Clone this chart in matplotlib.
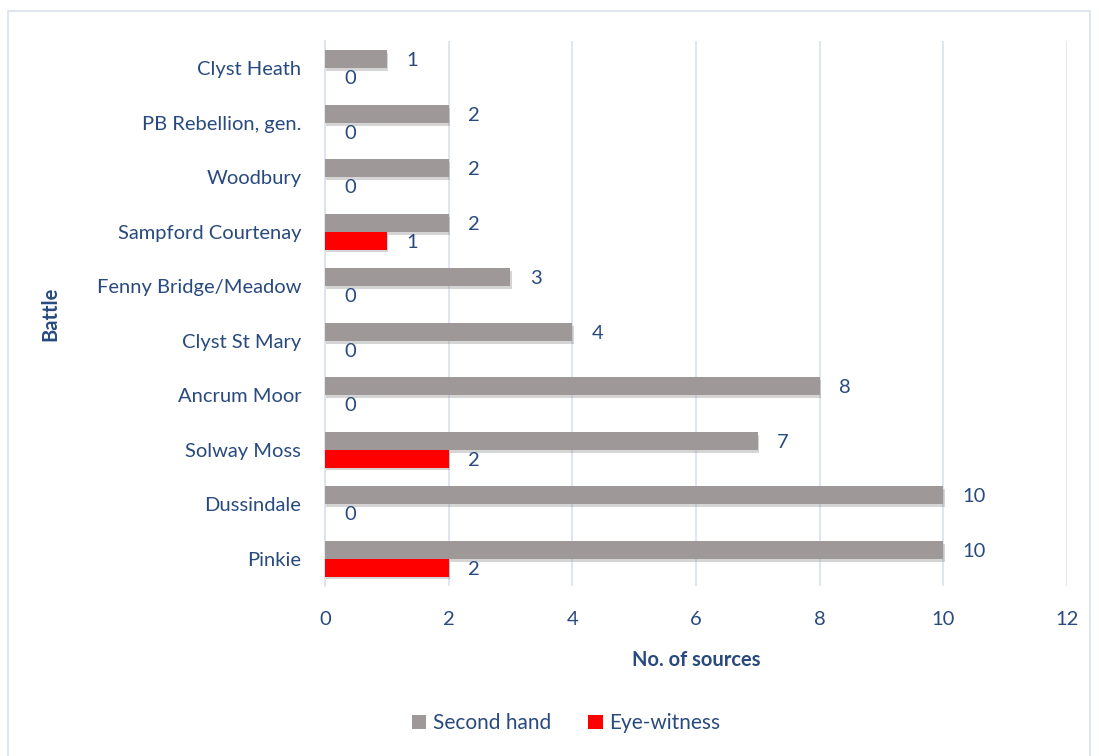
import matplotlib.pyplot as plt
import matplotlib.patheffects as pe
from matplotlib.patches import Rectangle
import numpy as np

battles = ['Clyst Heath', 'PB Rebellion, gen.', 'Woodbury', 'Sampford Courtenay',
           'Fenny Bridge/Meadow', 'Clyst St Mary', 'Ancrum Moor', 'Solway Moss',
           'Dussindale', 'Pinkie']
second_hand = [1, 2, 2, 2, 3, 4, 8, 7, 10, 10]
eye_witness = [0, 0, 0, 1, 0, 0, 0, 2, 0, 2]

txt = '#284A7E'
grey = '#9E9898'
red = '#FF0000'
grid_c = '#D9E2F0'

plt.rcParams['font.family'] = ['Lato', 'DejaVu Sans']

fig = plt.figure(figsize=(10.99, 7.56), dpi=100)
fig.patches.append(Rectangle((8 / 1099, -0.01), 1082 / 1099, 1 - 11 / 756 + 0.01,
                             transform=fig.transFigure, fill=False,
                             edgecolor=grid_c, linewidth=1.2))
ax = fig.add_axes([0.2957, 0.2249, 0.6752, 0.7209])

y = np.arange(len(battles))
h = 0.33
shadow = [pe.withSimplePatchShadow(offset=(1, -2), shadow_rgbFace='#888888', alpha=0.35)]
b1 = ax.barh(y - h / 2, second_hand, height=h, color=grey, label='Second hand',
             path_effects=shadow, zorder=3)
b2 = ax.barh(y + h / 2, eye_witness, height=h, color=red, label='Eye-witness',
             path_effects=shadow, zorder=3)

for bars, vals in ((b1, second_hand), (b2, eye_witness)):
    for bar, v in zip(bars, vals):
        ax.annotate(str(v), (v, bar.get_y() + bar.get_height() / 2),
                    xytext=(14, -1), textcoords='offset points', ha='left', va='center',
                    fontsize=14.5, color=txt)

ax.set_ylim(len(battles) - 0.5, -0.5)
ax.set_xlim(0, 12)
ax.set_xticks(range(0, 13, 2))
ax.set_yticks(y)
ax.set_yticklabels(battles)
ax.tick_params(length=0, labelsize=14.5, labelcolor=txt)
ax.tick_params(axis='y', pad=17)
ax.tick_params(axis='x', pad=18)
ax.grid(axis='x', color=grid_c, linewidth=1.2, zorder=0)
for s in ['top', 'right', 'bottom']:
    ax.spines[s].set_visible(False)
ax.spines['left'].set_color(grid_c)
ax.spines['left'].set_linewidth(1.2)

ax.set_xlabel('No. of sources', fontsize=14.5, fontweight='bold', color=txt, labelpad=16)
ax.set_ylabel('Battle', fontsize=14.5, fontweight='bold', color=txt)
ax.yaxis.set_label_coords(-0.357, 0.5)

leg = fig.legend(handles=[b1, b2], loc='center', bbox_to_anchor=(0.515, 0.043), ncol=2,
                 frameon=False, fontsize=15, handlelength=0.7, handleheight=0.7,
                 handletextpad=0.3, columnspacing=1.8)
for t in leg.get_texts():
    t.set_color(txt)
for hnd in leg.legend_handles:
    hnd.set_path_effects([])

fig.savefig('out.png', dpi=100)
